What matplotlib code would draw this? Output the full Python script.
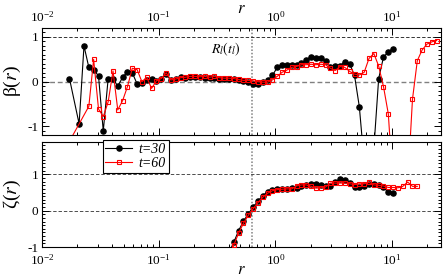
import numpy as np
import matplotlib
matplotlib.use('Agg')
import matplotlib.pyplot as plt
from matplotlib.ticker import LogLocator, MultipleLocator, NullFormatter, FixedLocator

plt.rcParams['font.family'] = ['Liberation Serif', 'DejaVu Serif']
plt.rcParams['mathtext.fontset'] = 'stix'
plt.rcParams['axes.unicode_minus'] = False

nan = np.nan

# radial distance grid
r = [0.0172, 0.0189, 0.0208, 0.0229, 0.0252, 0.0277, 0.0305, 0.0335, 0.0369, 0.0406,
     0.0446, 0.0491, 0.0540, 0.0594, 0.0653, 0.0718, 0.0790, 0.0869, 0.0956, 0.105,
     0.116, 0.127, 0.140, 0.154, 0.169, 0.186, 0.205, 0.226, 0.248, 0.273,
     0.300, 0.330, 0.363, 0.400, 0.440, 0.484, 0.532, 0.585, 0.644, 0.708,
     0.779, 0.857, 0.943, 1.037, 1.141, 1.255, 1.380, 1.518, 1.670, 1.837,
     2.021, 2.223, 2.445, 2.690, 2.959, 3.255, 3.580, 3.938, 4.332, 4.765,
     5.242, 5.766, 6.343, 6.977, 7.675, 8.442, 9.287, 10.215, 11.24, 12.36,
     13.60, 14.96, 16.45, 18.10, 19.91, 21.90, 24.09]

# beta(r), t=30 (r[0:68])
beta_t30 = [0.07, nan, -0.94, 0.80, 0.32, 0.27, 0.13, -1.10, 0.07, 0.07,
            -0.10, 0.10, 0.22, 0.20, -0.05, -0.02, 0.04, 0.05, 0.02, 0.06,
            0.17, 0.03, 0.07, 0.10, 0.08, 0.10, 0.10, 0.10, 0.08, 0.08,
            0.08, 0.07, 0.07, 0.06, 0.06, 0.04, 0.01, -0.01, -0.04, -0.05,
            -0.01, 0.03, 0.14, 0.32, 0.37, 0.38, 0.38, 0.37, 0.41, 0.49,
            0.56, 0.54, 0.53, 0.47, 0.32, 0.36, 0.36, 0.45, 0.40, 0.14,
            -0.56, -1.8, -2.2, -1.5, 0.07, 0.55, 0.67, 0.74]

# beta(r), t=60 (r[0:77])
beta_t60 = [-1.33, nan, nan, nan, -0.55, 0.50, -0.61, -0.78, -0.45, 0.24,
            -0.63, -0.42, -0.11, 0.30, 0.27, 0.00, 0.10, -0.15, 0.02, 0.07,
            0.20, 0.04, 0.06, 0.09, 0.10, 0.12, 0.12, 0.11, 0.12, 0.10,
            0.12, 0.09, 0.08, 0.08, 0.07, 0.05, 0.03, 0.03, 0.02, 0.00,
            -0.01, -0.01, 0.04, 0.12, 0.21, 0.26, 0.32, 0.34, 0.38, 0.38,
            0.39, 0.38, 0.39, 0.38, 0.30, 0.25, 0.34, 0.32, 0.23, 0.17,
            0.15, 0.21, 0.52, 0.63, 0.35, -0.11, -0.72, -2.4, -3.0, -3.0,
            -2.3, -0.39, 0.47, 0.71, 0.84, 0.89, 0.92]

# zeta(r), t=30 (r[33:68])
zeta_t30 = [-1.15, -0.87, -0.55, -0.29, -0.09, 0.10, 0.26, 0.41, 0.52, 0.58,
            0.60, 0.60, 0.61, 0.62, 0.62, 0.67, 0.71, 0.73, 0.73, 0.71,
            0.67, 0.69, 0.79, 0.87, 0.85, 0.76, 0.64, 0.64, 0.67, 0.74,
            0.74, 0.71, 0.64, 0.51, 0.48]

# zeta(r), t=60 (r[33:73])
zeta_t60 = [-1.25, -0.95, -0.62, -0.35, -0.13, 0.05, 0.22, 0.37, 0.48, 0.55,
            0.58, 0.59, 0.60, 0.60, 0.68, 0.71, 0.71, 0.67, 0.62, 0.63,
            0.65, 0.76, 0.76, 0.76, 0.76, 0.74, 0.72, 0.74, 0.74, 0.78,
            0.71, 0.70, 0.68, 0.64, 0.64, 0.63, 0.67, 0.79, 0.67, 0.67]

r_l = 0.635  # R_l(t_l)
labels = ['t=30', 't=60']

W, H = 443, 277
fig = plt.figure(figsize=(W / 100, H / 100), dpi=100)
L, R = 42 / W, 440.5 / W
ax1 = fig.add_axes([L, 1 - 135 / H, R - L, (135 - 28) / H])
ax2 = fig.add_axes([L, 1 - 247 / H, R - L, (247 - 141.7) / H])

rr = np.array(r)


def draw(ax, x, y, black):
    x = np.asarray(x)
    y = np.asarray(y, dtype=float)
    m = np.isfinite(y)
    if black:
        return ax.plot(x[m], y[m], color='black', lw=0.8, marker='o', ms=3.7,
                       mfc='black', mec='black', zorder=3)[0]
    return ax.plot(x[m], y[m], color='red', lw=0.8, marker='s', ms=3.2,
                   mfc='none', mec='red', mew=0.8, zorder=4)[0]


for ax in (ax1, ax2):
    ax.set_xscale('log')
    ax.set_xlim(0.01, 26)
    ax.axvline(r_l, color='0.5', ls=(0, (1, 1.2)), lw=1.1, zorder=1)
    ax.tick_params(which='both', direction='in', top=True, right=True,
                   width=0.7, labelsize=9.5, pad=2.5)
    ax.tick_params(which='major', length=5)
    ax.tick_params(which='minor', length=2.5)
    ax.xaxis.set_major_locator(LogLocator(base=10, numticks=10))
    ax.xaxis.set_minor_locator(LogLocator(base=10, subs=np.arange(2, 10), numticks=20))
    ax.xaxis.set_minor_formatter(NullFormatter())
    ax.yaxis.set_major_locator(FixedLocator([-1, 0, 1]))
    ax.yaxis.set_minor_locator(MultipleLocator(0.1))
    for s in ax.spines.values():
        s.set_linewidth(0.8)

# top panel
ax1.set_ylim(-1.19, 1.2)
ax1.axhline(1, color='0.2', ls=(0, (3.5, 2)), lw=0.7, zorder=1)
ax1.axhline(0, color='0.5', ls=(0, (3.5, 2)), lw=1.0, zorder=1)
draw(ax1, rr[:len(beta_t30)], beta_t30, True)
draw(ax1, rr[:len(beta_t60)], beta_t60, False)
ax1.tick_params(axis='x', labeltop=True, labelbottom=False)
ax1.xaxis.set_label_position('top')
ax1.set_xlabel('$r$', fontsize=12, labelpad=-2)
ax1.set_ylabel('β($r$)', fontsize=14, labelpad=3)
ax1.text(0.462, 0.80, '$R_l(t_l)$', transform=ax1.transAxes, ha='center',
         va='center', fontsize=10)

# bottom panel
ax2.set_ylim(-1, 1.9)
ax2.axhline(1, color='0.3', ls=(0, (3.5, 2)), lw=0.7, zorder=1)
ax2.axhline(0, color='0.3', ls=(0, (3.5, 2)), lw=0.7, zorder=1)
h1 = draw(ax2, rr[33:33 + len(zeta_t30)], zeta_t30, True)
h2 = draw(ax2, rr[33:33 + len(zeta_t60)], zeta_t60, False)
ax2.tick_params(axis='x', pad=4.5)
ax2.set_xlabel('$r$', fontsize=12, labelpad=-4)
ax2.set_ylabel('ζ($r$)', fontsize=14, labelpad=3)
leg = ax2.legend([h1, h2], labels, loc='upper left', bbox_to_anchor=(0.152, 1.018),
                 borderaxespad=0, fancybox=False, edgecolor='black', framealpha=1,
                 prop={'style': 'italic', 'size': 10}, handlelength=1.9,
                 handletextpad=0.5, borderpad=0.2, labelspacing=0.1)
leg.get_frame().set_linewidth(0.8)
leg.set_zorder(10)

fig.savefig('out.png', dpi=100)
